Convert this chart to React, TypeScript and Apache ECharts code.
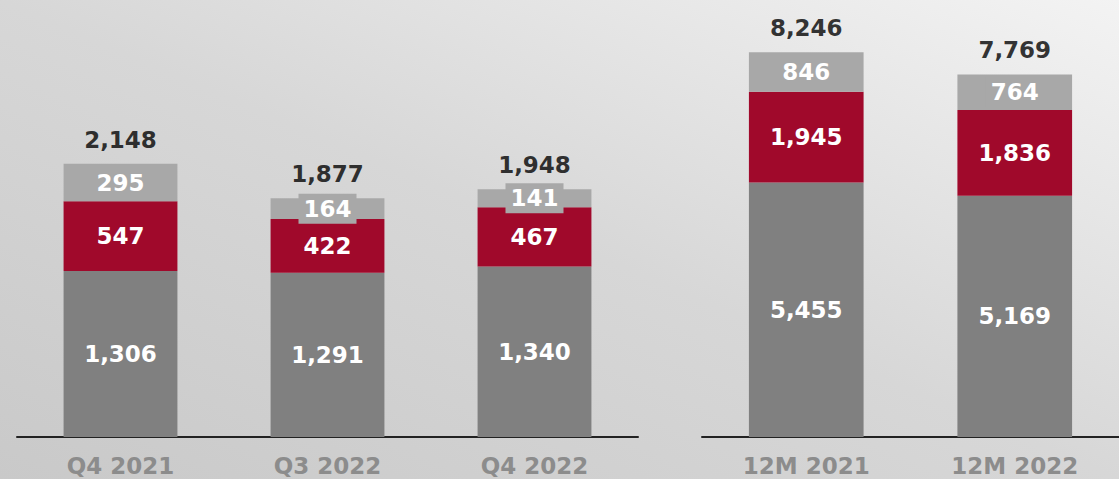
import React, { useEffect, useRef } from "react";
import * as echarts from "echarts";

const quarterCats = ["Q4 2021", "Q3 2022", "Q4 2022"];
const quarterBase = [1306, 1291, 1340];
const quarterMid = [547, 422, 467];
const quarterTop = [295, 164, 141];
const quarterTotals = [2148, 1877, 1948];

const yearCats = ["12M 2021", "12M 2022"];
const yearBase = [5455, 5169];
const yearMid = [1945, 1836];
const yearTop = [846, 764];
const yearTotals = [8246, 7769];

const FONT = "'DejaVu Sans', sans-serif";
const DARK = "#808080";
const RED = "#a0092b";
const LIGHT = "#a8a8a8";

const fmt = (v: number) => v.toLocaleString("en-US");

function barSeries(name: string, data: number[], color: string, idx: number, stack: string, top: boolean) {
  return {
    type: "bar",
    name,
    xAxisIndex: idx,
    yAxisIndex: idx,
    stack,
    barWidth: "55%",
    data,
    itemStyle: { color },
    label: {
      show: true,
      position: "inside",
      color: "#ffffff",
      fontFamily: FONT,
      fontWeight: "bold",
      fontSize: 23,
      formatter: (p: any) => fmt(p.value),
      ...(top ? { backgroundColor: LIGHT, padding: [4, 5, 3, 5] } : {}),
    },
  };
}

function totalSeries(data: number[], idx: number) {
  return {
    type: "scatter",
    xAxisIndex: idx,
    yAxisIndex: idx,
    data,
    symbolSize: 1,
    itemStyle: { color: "rgba(0,0,0,0)" },
    label: {
      show: true,
      position: "top",
      distance: 12,
      color: "#000000",
      fontFamily: FONT,
      fontWeight: "bold",
      fontSize: 23,
      formatter: (p: any) => fmt(p.value),
    },
  };
}

function xAxis(data: string[], idx: number) {
  return {
    type: "category",
    gridIndex: idx,
    data,
    axisLine: { show: true, lineStyle: { color: "#222222", width: 2 } },
    axisTick: { show: false },
    axisLabel: {
      color: "#8c8c8c",
      fontFamily: FONT,
      fontWeight: "bold",
      fontSize: 23,
      margin: 17,
    },
  };
}

function yAxis(max: number, idx: number) {
  return {
    type: "value",
    gridIndex: idx,
    min: 0,
    max,
    show: false,
    splitLine: { show: false },
  };
}

export default function App() {
  const ref = useRef<HTMLDivElement>(null);
  useEffect(() => {
    if (!ref.current) return;
    const chart = echarts.init(ref.current, null, { renderer: "svg" });
    chart.setOption({
      animation: false,
      backgroundColor: {
        type: "linear",
        x: 0,
        y: 1,
        x2: 1,
        y2: 0,
        colorStops: [
          { offset: 0, color: "#c9c9c9" },
          { offset: 0.5, color: "#d7d7d7" },
          { offset: 1, color: "#f3f3f3" },
        ],
      },
      grid: [
        { left: 17, width: 621, top: 119, bottom: 42 },
        { left: 702, width: 432, top: 17, bottom: 42 },
      ],
      xAxis: [xAxis(quarterCats, 0), xAxis(yearCats, 1)],
      yAxis: [yAxis(2500, 0), yAxis(9000, 1)],
      series: [
        barSeries("Base Q", quarterBase, DARK, 0, "q", false),
        barSeries("Mid Q", quarterMid, RED, 0, "q", false),
        barSeries("Top Q", quarterTop, LIGHT, 0, "q", true),
        totalSeries(quarterTotals, 0),
        barSeries("Base Y", yearBase, DARK, 1, "y", false),
        barSeries("Mid Y", yearMid, RED, 1, "y", false),
        barSeries("Top Y", yearTop, LIGHT, 1, "y", true),
        totalSeries(yearTotals, 1),
      ],
    });
    return () => chart.dispose();
  }, []);
  return (
    <div
      ref={ref}
      style={{ position: "absolute", left: 0, top: 0, width: 1119, height: 479 }}
    />
  );
}
